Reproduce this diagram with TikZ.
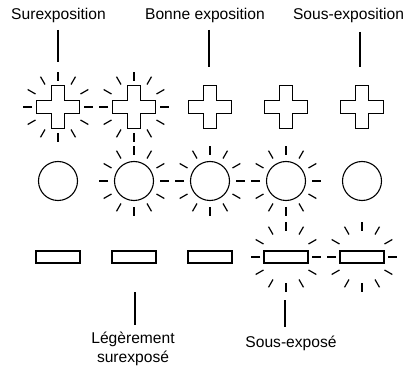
\documentclass[tikz,border=0pt]{standalone}
\usepackage{fontspec}
\setmainfont{Liberation Sans}
\begin{document}
\begin{tikzpicture}[x=1pt,y=-1pt,
  shp/.style={draw, line width=1.1pt, inner sep=0pt},
  ray/.style={line width=1.2pt},
  lbl/.style={font=\fontsize{15.6}{18.5}\selectfont, inner sep=0pt},
  tick/.style={line width=2pt},
  rays/.pic={\foreach \a in {0,30,...,330} \draw[ray] (\a:26pt) -- (\a:35pt);},
  crossp/.pic={\draw[line width=1.1pt] (-6.5pt,-21.5pt) -- (6.5pt,-21.5pt) -- (6.5pt,-6.5pt) -- (21.5pt,-6.5pt) -- (21.5pt,6.5pt) -- (6.5pt,6.5pt) -- (6.5pt,21.5pt) -- (-6.5pt,21.5pt) -- (-6.5pt,6.5pt) -- (-21.5pt,6.5pt) -- (-21.5pt,-6.5pt) -- (-6.5pt,-6.5pt) -- cycle;}]
\useasboundingbox (0,0) rectangle (415,366);
% crosses, circles, rectangles
\foreach \i/\x in {1/58,2/134,3/210,4/286,5/362} {
  \coordinate (p\i) at (\x,107);
  \pic at (p\i) {crossp};
  \node[shp, circle, minimum size=39pt] (o\i) at (\x,181) {};
  \node[shp, rectangle, minimum width=44pt, minimum height=12pt] (r\i) at (\x,257) {};
}
% rays
\pic at (p1) {rays};
\pic at (p2) {rays};
\pic at (o2) {rays};
\pic at (o3) {rays};
\pic at (o4) {rays};
\pic at (r4) {rays};
\pic at (r5) {rays};
% labels
\node[lbl, anchor=base] (t1) at (58.5,19.5) {Surexposition};
\node[lbl, anchor=base] (t2) at (205,19.5) {Bonne exposition};
\node[lbl, anchor=base] (t3) at (348.5,19.5) {Sous-exposition};
\node[lbl, anchor=north, align=center] (b1) at (133,332) {Légèrement\\surexposé};
\node[lbl, anchor=base] (b2) at (291,347) {Sous-exposé};
% label lines
\coordinate (t1a) at (58,30);  \coordinate (t1b) at (58,62);
\coordinate (t2a) at (209,30); \coordinate (t2b) at (209,67);
\coordinate (t3a) at (360,32); \coordinate (t3b) at (360,67);
\coordinate (b1a) at (135,292); \coordinate (b1b) at (135,325);
\coordinate (b2a) at (285,300); \coordinate (b2b) at (285,327);
\draw[tick] (t1a) -- (t1b);
\draw[tick] (t2a) -- (t2b);
\draw[tick] (t3a) -- (t3b);
\draw[tick] (b1a) -- (b1b);
\draw[tick] (b2a) -- (b2b);
\end{tikzpicture}
\end{document}
